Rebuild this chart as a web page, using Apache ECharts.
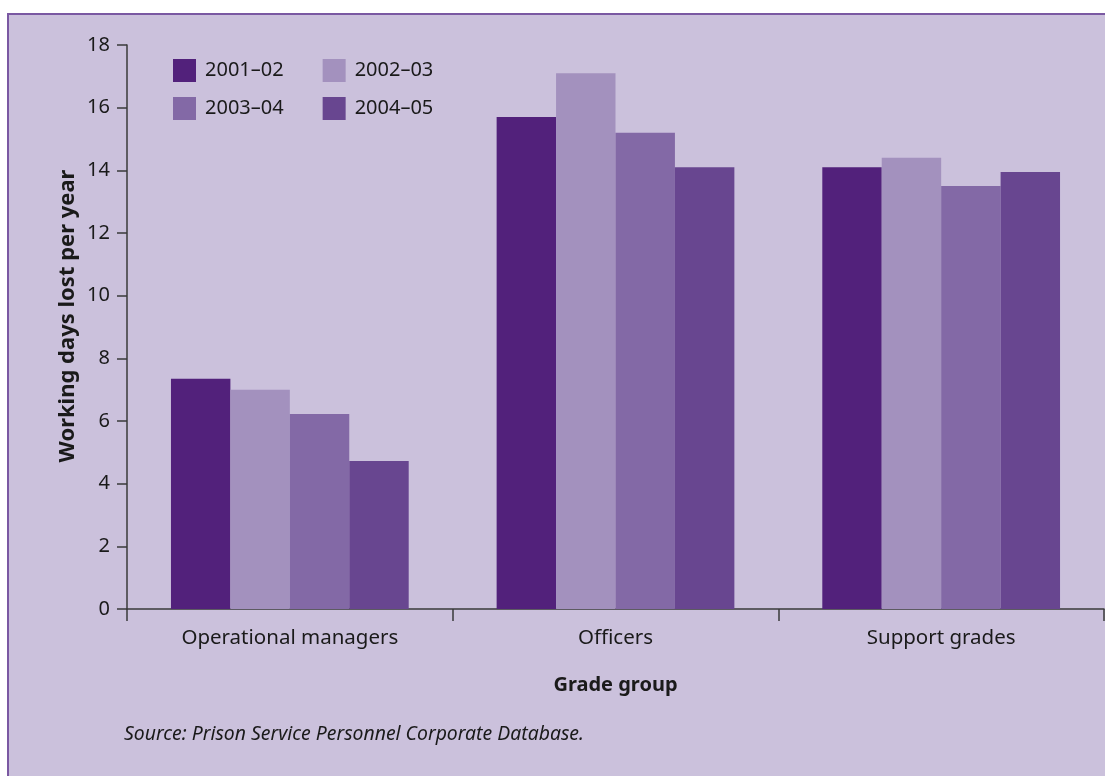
<!DOCTYPE html>
<html>
<head>
<meta charset="utf-8">
<script src="https://cdn.jsdelivr.net/npm/echarts@6/dist/echarts.min.js"></script>
<style>
  html, body { margin: 0; padding: 0; background: #ffffff; }
  #chart { width: 1105px; height: 776px; }
</style>
</head>
<body>
<div id="chart"></div>
<script>
// Working days lost per year by grade group
const categories = ['Operational managers', 'Officers', 'Support grades'];
const years = ['2001–02', '2002–03', '2003–04', '2004–05'];
const values2001 = [7.35, 15.7, 14.1];
const values2002 = [7.0, 17.1, 14.4];
const values2003 = [6.22, 15.2, 13.5];
const values2004 = [4.72, 14.1, 13.95];
const yTicks = [0, 2, 4, 6, 8, 10, 12, 14, 16, 18];

const colors = ['#52217b', '#a391be', '#8369a6', '#684690'];
const seriesValues = [values2001, values2002, values2003, values2004];
const FONT = '"Noto Sans", "Open Sans", sans-serif';
const INK = '#1a1a1a';

const chart = echarts.init(document.getElementById('chart'));

const legendText = {
  color: INK, fontSize: 20, fontFamily: FONT,
  width: 80, padding: [0, 0, 0, 4]
};

chart.setOption({
  backgroundColor: '#ffffff',
  animation: false,
  graphic: [
    {
      type: 'rect', z: -10,
      shape: { x: 8, y: 14, width: 1110, height: 780 },
      style: { fill: '#cbc1dc', stroke: '#7a58a2', lineWidth: 2 }
    },
    {
      // value-axis title, rotated to read bottom-to-top
      type: 'text', x: 68, y: 316, rotation: Math.PI / 2,
      style: {
        text: 'Working days lost per year',
        fill: INK, fontSize: 22, fontWeight: 'bold', fontFamily: FONT,
        align: 'center', verticalAlign: 'middle'
      }
    },
    {
      type: 'text', left: 124, top: 725,
      style: {
        text: 'Source: Prison Service Personnel Corporate Database.',
        fill: INK, fontSize: 19.4, fontStyle: 'italic', fontFamily: FONT
      }
    }
  ],
  legend: [
    {
      data: years.slice(0, 2), left: 168, top: 54,
      itemWidth: 23, itemHeight: 23, itemGap: 39,
      icon: 'rect', textStyle: legendText, selectedMode: false
    },
    {
      data: years.slice(2, 4), left: 168, top: 92,
      itemWidth: 23, itemHeight: 23, itemGap: 39,
      icon: 'rect', textStyle: legendText, selectedMode: false
    }
  ],
  grid: { left: 127, right: 1, top: 45, bottom: 167, containLabel: false },
  xAxis: {
    type: 'category',
    data: categories,
    name: 'Grade group',
    nameLocation: 'middle',
    nameGap: 66,
    nameTextStyle: { color: INK, fontSize: 20, fontWeight: 'bold', fontFamily: FONT },
    axisLine: { lineStyle: { color: '#3a3a3a', width: 1.5 } },
    axisTick: { show: true, length: 12, lineStyle: { color: '#3a3a3a', width: 1.5 } },
    axisLabel: { color: INK, fontSize: 20.5, fontFamily: FONT, margin: 19 }
  },
  yAxis: {
    type: 'value',
    min: yTicks[0], max: yTicks[yTicks.length - 1], interval: 2,
    splitLine: { show: false },
    axisLine: { show: true, lineStyle: { color: '#3a3a3a', width: 1.5 } },
    axisTick: { show: true, length: 10, lineStyle: { color: '#3a3a3a', width: 1.5 } },
    axisLabel: { color: INK, fontSize: 20, fontFamily: FONT, margin: 17 }
  },
  series: years.map((name, i) => ({
    name,
    type: 'bar',
    data: seriesValues[i],
    itemStyle: { color: colors[i] },
    barGap: '0%',
    barCategoryGap: '27%'
  }))
});
</script>
</body>
</html>
